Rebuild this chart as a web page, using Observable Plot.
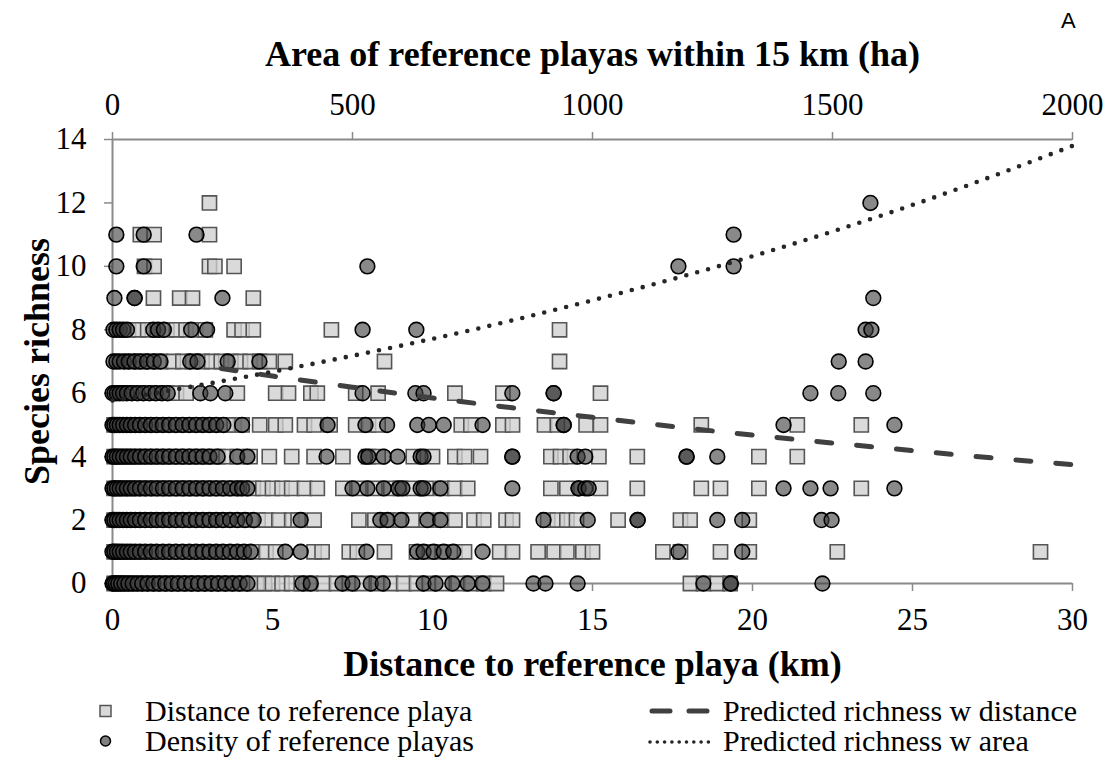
<!DOCTYPE html>
<html>
<head>
<meta charset="utf-8">
<script src="https://cdn.jsdelivr.net/npm/d3@7"></script>
<script src="https://cdn.jsdelivr.net/npm/@observablehq/plot@0.6"></script>
<style>
  html, body { margin: 0; padding: 0; background: #fff; }
  #wrap { position: relative; width: 1107px; height: 769px; font-family: "Liberation Serif", "Times New Roman", serif; color: #000; }
  #panel { position: absolute; left: 1061px; top: 10px; font-family: "Liberation Sans", Arial, sans-serif; font-size: 22px; line-height: 22px; }
  #legend { position: relative; width: 1107px; height: 79px; font-size: 30px; line-height: 30px; }
  .item { position: absolute; display: flex; align-items: center; white-space: nowrap; height: 30px; }
  .item svg { display: block; }
</style>
</head>
<body>
<div id="wrap">
  <div id="chart"></div>
  <div id="panel">A</div>
  <div id="legend"></div>
</div>
<script>
// ---- Data ----
// Squares: distance to reference playa (km), listed by species richness 0..12
const squareRows = [
  [0.05,0.2,0.35,0.5,0.7,0.9,1.1,1.3,1.5,1.7,1.9,2.1,2.3,2.5,2.7,2.9,3.1,3.3,3.5,3.75,4.0,4.25,4.5,4.75,5.0,5.3,5.6,5.9,6.2,6.6,7.0,7.4,7.8,8.3,8.7,9.1,9.5,9.9,10.3,10.8,11.2,11.6,12.0,18.06,18.47,18.9,19.3],
  [0.05,0.25,0.45,0.65,0.85,1.05,1.25,1.45,1.65,1.85,2.05,2.25,2.45,2.65,2.85,3.05,3.25,3.45,3.65,3.85,4.1,4.4,4.8,5.1,6.3,6.55,7.4,7.65,8.5,9.5,9.9,10.3,10.7,11.0,12.1,12.5,13.3,13.8,14.2,14.7,15.0,17.2,17.75,19.0,19.9,22.65,29.0],
  [0.05,0.25,0.45,0.65,0.85,1.05,1.25,1.45,1.65,1.85,2.05,2.25,2.45,2.65,2.85,3.05,3.3,3.55,3.8,4.05,4.3,4.55,4.8,5.2,5.6,5.8,6.3,7.7,8.2,8.6,9.0,9.4,9.8,10.3,10.7,11.3,11.6,12.3,12.5,13.6,13.9,14.2,14.5,15.8,17.75,18.05,19.9],
  [0.05,0.25,0.45,0.65,0.85,1.05,1.25,1.45,1.65,1.85,2.05,2.25,2.45,2.65,2.85,3.05,3.3,3.55,3.8,4.05,4.4,4.7,5.0,5.3,5.6,6.0,6.4,7.2,7.7,8.2,8.7,9.0,9.4,9.8,10.3,10.7,11.1,13.7,14.2,15.25,16.4,18.4,19.0,20.2,23.4],
  [0.05,0.3,0.55,0.8,1.05,1.3,1.55,1.8,2.05,2.3,2.55,2.8,3.05,3.3,3.55,3.9,4.3,4.9,5.6,6.3,7.2,8.0,8.3,9.4,10.0,10.7,11.0,11.5,13.7,14.0,14.3,15.2,16.4,20.2,21.4],
  [0.05,0.3,0.55,0.8,1.05,1.3,1.55,1.8,2.05,2.3,2.55,2.8,3.05,3.3,3.55,3.8,4.05,4.6,5.1,5.4,6.0,6.3,6.8,7.6,8.0,8.3,10.9,11.2,12.2,12.5,13.5,13.9,14.8,15.25,18.4,21.4,23.4],
  [0.2,0.5,0.8,1.1,1.4,1.7,2.0,2.3,3.9,5.1,5.5,6.2,6.4,7.6,8.3,10.7,12.2,15.25],
  [0.6,0.9,1.2,1.5,1.9,2.2,2.5,2.8,3.1,3.4,3.7,4.0,4.3,4.6,4.9,5.4,8.5,13.97],
  [0.5,0.8,1.1,1.4,1.7,2.0,2.3,2.6,2.9,3.8,4.05,4.4,6.84,13.97],
  [1.28,2.1,2.5,4.4],
  [1.0,1.3,3.03,3.2,3.8],
  [0.87,1.3,3.03],
  [3.03]
];
// Circles: area of reference playas within 15 km (ha), listed by species richness 0..12
const circleRows = [
  [0,3,7,12,18,25,33,42,52,62,73,85,97,110,123,136,150,164,178,192,206,220,235,250,265,281,396,413,479,500,538,563,648,673,708,740,771,877,902,969,1231,1288,1288,1479],
  [0,4,9,15,22,30,38,47,57,68,80,92,105,118,132,146,160,174,188,202,216,230,245,260,274,288,360,392,529,635,648,669,690,710,771,1179,1312],
  [0,4,9,15,22,30,38,47,57,68,80,92,105,118,132,146,160,174,188,202,216,230,245,260,276,294,392,558,573,602,656,683,898,990,1094,1094,1260,1312,1477,1498],
  [0,4,9,15,22,30,38,47,57,68,80,92,105,118,132,146,160,174,188,202,216,230,245,260,270,281,500,531,565,596,604,642,648,683,833,971,971,985,992,1398,1454,1496,1629],
  [0,4,9,15,22,30,38,47,57,68,80,92,105,118,132,146,160,174,188,202,219,260,281,446,527,533,565,594,642,648,833,833,969,985,1196,1196,1260],
  [0,4,9,15,22,30,38,47,57,68,80,92,105,118,132,146,160,174,188,202,216,231,270,448,527,572,635,659,690,771,940,940,1398,1629],
  [0,4,9,15,22,30,40,52,64,77,90,103,115,183,204,235,521,631,648,833,919,919,1454,1512,1585],
  [2,8,15,24,34,46,58,72,86,100,162,177,240,306,1513,1569],
  [2,8,15,22,30,85,95,107,164,197,521,633,1569,1581],
  [4,46,46,229,1585],
  [8,65,531,1179,1294],
  [8,65,175,1294],
  [1579]
];
// Predicted richness with distance (dashed)
const distLineKm   = [3.4, 5, 7.5, 10, 12.5, 15, 17.5, 20, 22.5, 25, 27.5, 30];
const distLineRich = [6.78, 6.54, 6.19, 5.85, 5.54, 5.24, 4.95, 4.68, 4.43, 4.19, 3.96, 3.75];
// Predicted richness with area (dotted)
const areaLineHa   = [0, 250, 500, 750, 1000, 1250, 1500, 1750, 2000];
const areaLineRich = [5.77, 6.44, 7.18, 8.00, 8.93, 9.95, 11.10, 12.38, 13.80];
// Ticks
const kmTicks = [0, 5, 10, 15, 20, 25, 30];
const haTicks = [0, 500, 1000, 1500, 2000];
const richTicks = [0, 2, 4, 6, 8, 10, 12, 14];

// ---- Build tables ----
const kmPerHa = 30 / 2000; // top (area) axis spans the same width as the bottom (distance) axis
const squares = squareRows.flatMap((row, r) => row.map(d => ({dist: d, rich: r})));
const circles = circleRows.flatMap((row, r) => row.map(a => ({area: a, rich: r})));
const distLine = distLineKm.map((d, i) => ({dist: d, rich: distLineRich[i]}));
const areaLine = areaLineHa.map((a, i) => ({area: a, rich: areaLineRich[i]}));

const axisGray = "#8a8a8a";

const chart = Plot.plot({
  width: 1107,
  height: 690,
  marginLeft: 112,
  marginRight: 35,
  marginTop: 139,
  marginBottom: 107,
  style: {fontFamily: "'Liberation Serif', 'Times New Roman', serif", fontSize: "31px", background: "#fff", color: "#000", overflow: "visible"},
  x: {domain: [0, 30]},
  y: {domain: [0, 14]},
  marks: [
    Plot.axisX({anchor: "bottom", ticks: kmTicks, tickSize: 8, tickPadding: 16, stroke: axisGray, strokeWidth: 1.5, fill: "#000", label: null, fontSize: 31}),
    Plot.axisX({anchor: "top", ticks: haTicks.map(a => a * kmPerHa), tickFormat: v => String(Math.round(v / kmPerHa)), tickSize: 8, tickPadding: 17, stroke: axisGray, strokeWidth: 1.5, fill: "#000", label: null, fontSize: 31}),
    Plot.axisY({ticks: richTicks, tickSize: 8, tickPadding: 18, stroke: axisGray, strokeWidth: 1.5, fill: "#000", label: null, fontSize: 31}),
    Plot.ruleX([0], {stroke: axisGray, strokeWidth: 2}),
    Plot.ruleY([0, 14], {stroke: axisGray, strokeWidth: 2}),
    Plot.dot(squares, {x: "dist", y: "rich", symbol: "square", r: 8, fill: "#d0d0d0", fillOpacity: 0.78, stroke: "#555", strokeWidth: 1.6}),
    Plot.dot(circles, {x: d => d.area * kmPerHa, y: "rich", r: 7.4, fill: "#3a3a3a", fillOpacity: 0.6, stroke: "#000", strokeWidth: 1.6}),
    Plot.line(distLine, {x: "dist", y: "rich", curve: "natural", stroke: "#404040", strokeWidth: 5, strokeDasharray: "15 25", strokeLinecap: "round"}),
    Plot.line(areaLine, {x: d => d.area * kmPerHa, y: "rich", curve: "natural", stroke: "#262626", strokeWidth: 4.6, strokeDasharray: "0 11.3", strokeLinecap: "round"}),
    Plot.text(["Area of reference playas within 15 km (ha)"], {text: d => d, frameAnchor: "top", dy: -85, fontSize: 36, fontWeight: "bold", lineAnchor: "middle"}),
    Plot.text(["Distance to reference playa (km)"], {text: d => d, frameAnchor: "bottom", dy: 81, fontSize: 36, fontWeight: "bold", lineAnchor: "middle"}),
    Plot.text(["Species richness"], {text: d => d, frameAnchor: "left", dx: -75, rotate: -90, textAnchor: "middle", fontSize: 36, fontWeight: "bold", lineAnchor: "middle"})
  ]
});
document.getElementById("chart").appendChild(chart);

// ---- Legend (HTML below the SVG) ----
const legendItems = [
  {label: "Distance to reference playa", kind: "square", left: 96, top: 6},
  {label: "Density of reference playas", kind: "circle", left: 96, top: 36},
  {label: "Predicted richness w distance", kind: "dash", left: 647, top: 6},
  {label: "Predicted richness w area", kind: "dot", left: 647, top: 36}
];
const legend = document.getElementById("legend");
for (const it of legendItems) {
  const div = document.createElement("div");
  div.className = "item";
  div.style.left = it.left + "px";
  div.style.top = it.top + "px";
  let sw;
  if (it.kind === "square") {
    sw = `<svg width="49" height="30"><rect x="4" y="9.5" width="11" height="11" fill="#d9d9d9" stroke="#555" stroke-width="1.5"/></svg>`;
  } else if (it.kind === "circle") {
    sw = `<svg width="49" height="30"><circle cx="9.5" cy="15" r="5" fill="#808080" stroke="#000" stroke-width="1.5"/></svg>`;
  } else if (it.kind === "dash") {
    sw = `<svg width="76" height="30"><line x1="5" y1="15" x2="60" y2="15" stroke="#404040" stroke-width="5" stroke-dasharray="18 19" stroke-linecap="round"/></svg>`;
  } else {
    sw = `<svg width="76" height="30"><line x1="3" y1="16" x2="62" y2="16" stroke="#262626" stroke-width="3.6" stroke-dasharray="0 7.3" stroke-linecap="round"/></svg>`;
  }
  div.innerHTML = sw + `<span>${it.label}</span>`;
  legend.appendChild(div);
}
</script>
</body>
</html>
